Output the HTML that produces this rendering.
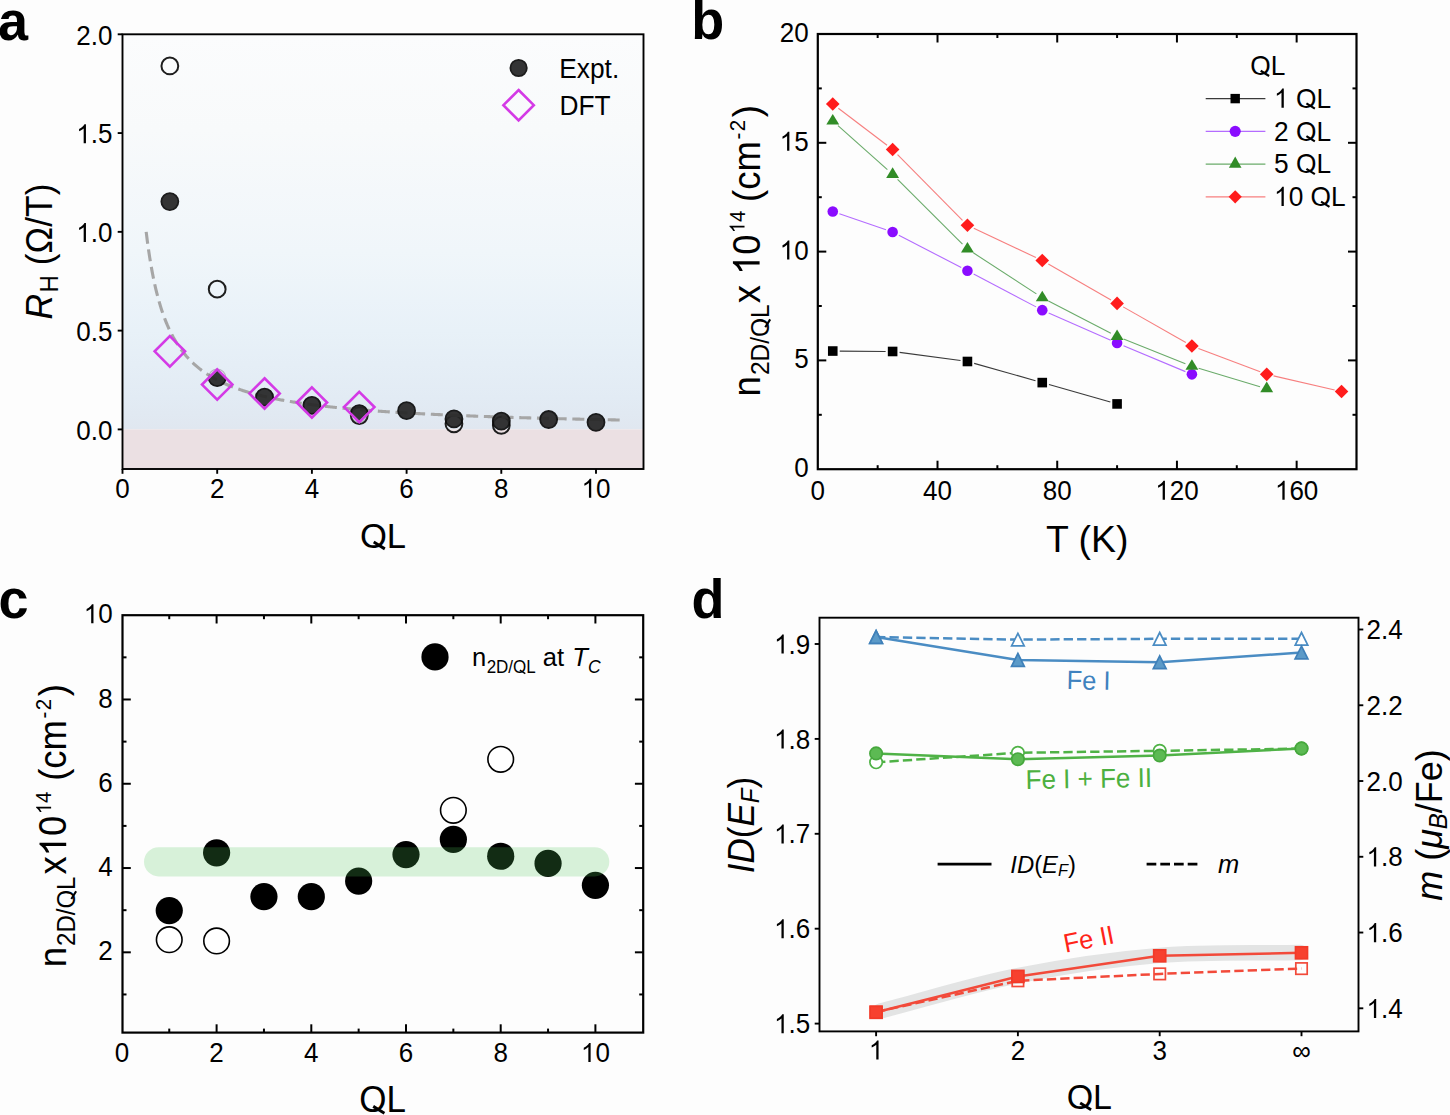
<!DOCTYPE html>
<html><head><meta charset="utf-8"><style>
html,body{margin:0;padding:0;background:#fdfdfd;}
svg{display:block;}
svg text{font-family:"Liberation Sans", sans-serif;}
</style></head><body>
<svg width="1450" height="1115" viewBox="0 0 1450 1115">
<rect width="1450" height="1115" fill="#fdfdfd"/>
<defs><linearGradient id="ga" x1="0" y1="0" x2="0" y2="1"><stop offset="0" stop-color="rgb(251,252,253)"/><stop offset="0.24" stop-color="rgb(248,250,251)"/><stop offset="0.55" stop-color="rgb(240,246,250)"/><stop offset="0.75" stop-color="rgb(232,241,248)"/><stop offset="0.92" stop-color="rgb(226,235,244)"/><stop offset="1" stop-color="rgb(224,231,240)"/></linearGradient></defs>
<rect x="122.5" y="34.3" width="521.0" height="395.09999999999997" fill="url(#ga)"/>
<rect x="122.5" y="429.4" width="521.0" height="39.60000000000002" fill="#ebe0e3"/>
<circle cx="169.85" cy="65.91" r="8.4" fill="none" stroke="#1e1e1e" stroke-width="2"/>
<circle cx="217.20" cy="289.14" r="8.4" fill="none" stroke="#1e1e1e" stroke-width="2"/>
<circle cx="359.25" cy="415.57" r="8.4" fill="none" stroke="#1e1e1e" stroke-width="2"/>
<circle cx="453.95" cy="423.87" r="8.4" fill="none" stroke="#1e1e1e" stroke-width="2"/>
<circle cx="501.30" cy="425.25" r="8.4" fill="none" stroke="#1e1e1e" stroke-width="2"/>
<polyline points="146.18,231.85 147.36,241.26 148.54,249.81 149.73,257.62 150.91,264.77 152.09,271.36 153.28,277.44 154.46,283.07 155.64,288.29 156.83,293.16 158.01,297.70 159.20,301.95 160.38,305.93 161.56,309.67 162.75,313.19 163.93,316.51 165.12,319.65 166.30,322.62 167.48,325.43 168.67,328.09 169.85,330.62 171.03,333.03 172.22,335.33 173.40,337.52 174.59,339.60 175.77,341.60 176.95,343.51 178.14,345.34 179.32,347.09 180.50,348.77 181.69,350.38 182.87,351.93 184.06,353.42 185.24,354.85 186.42,356.23 187.61,357.56 188.79,358.85 189.97,360.08 191.16,361.28 192.34,362.43 193.53,363.55 194.71,364.63 195.89,365.67 197.08,366.69 198.26,367.67 199.44,368.62 200.63,369.54 201.81,370.43 203.00,371.30 204.18,372.14 205.36,372.96 206.55,373.75 207.73,374.52 208.91,375.28 210.10,376.01 211.28,376.72 212.47,377.41 213.65,378.09 214.83,378.75 216.02,379.39 217.20,380.01 218.38,380.62 219.57,381.22 220.75,381.80 221.94,382.36 223.12,382.92 224.30,383.46 225.49,383.99 226.67,384.50 227.85,385.01 229.04,385.50 230.22,385.98 231.41,386.45 232.59,386.92 233.77,387.37 234.96,387.81 236.14,388.24 237.32,388.67 238.51,389.08 239.69,389.49 240.88,389.89 242.06,390.28 243.24,390.66 244.43,391.04 245.61,391.41 246.79,391.77 247.98,392.13 249.16,392.47 250.35,392.82 251.53,393.15 252.71,393.48 253.90,393.81 255.08,394.12 256.26,394.44 257.45,394.74 258.63,395.04 259.81,395.34 261.00,395.63 262.18,395.92 263.37,396.20 264.55,396.47 265.73,396.75 266.92,397.01 268.10,397.28 269.28,397.54 270.47,397.79 271.65,398.04 272.84,398.29 274.02,398.53 275.20,398.77 276.39,399.01 277.57,399.24 278.75,399.47 279.94,399.69 281.12,399.91 282.31,400.13 283.49,400.35 284.67,400.56 285.86,400.77 287.04,400.98 288.23,401.18 289.41,401.38 290.59,401.58 291.78,401.77 292.96,401.96 294.14,402.15 295.33,402.34 296.51,402.52 297.70,402.70 298.88,402.88 300.06,403.06 301.25,403.23 302.43,403.41 303.61,403.58 304.80,403.74 305.98,403.91 307.16,404.07 308.35,404.23 309.53,404.39 310.72,404.55 311.90,404.71 313.08,404.86 314.27,405.01 315.45,405.16 316.63,405.31 317.82,405.45 319.00,405.60 320.19,405.74 321.37,405.88 322.55,406.02 323.74,406.16 324.92,406.29 326.11,406.43 327.29,406.56 328.47,406.69 329.66,406.82 330.84,406.95 332.02,407.08 333.21,407.20 334.39,407.33 335.58,407.45 336.76,407.57 337.94,407.69 339.13,407.81 340.31,407.93 341.49,408.04 342.68,408.16 343.86,408.27 345.05,408.38 346.23,408.50 347.41,408.61 348.60,408.71 349.78,408.82 350.96,408.93 352.15,409.03 353.33,409.14 354.51,409.24 355.70,409.34 356.88,409.45 358.07,409.55 359.25,409.64 360.43,409.74 361.62,409.84 362.80,409.94 363.99,410.03 365.17,410.13 366.35,410.22 367.54,410.31 368.72,410.40 369.90,410.50 371.09,410.59 372.27,410.67 373.46,410.76 374.64,410.85 375.82,410.94 377.01,411.02 378.19,411.11 379.37,411.19 380.56,411.28 381.74,411.36 382.93,411.44 384.11,411.52 385.29,411.60 386.48,411.68 387.66,411.76 388.84,411.84 390.03,411.92 391.21,411.99 392.40,412.07 393.58,412.15 394.76,412.22 395.95,412.30 397.13,412.37 398.31,412.44 399.50,412.52 400.68,412.59 401.87,412.66 403.05,412.73 404.23,412.80 405.42,412.87 406.60,412.94 407.78,413.01 408.97,413.07 410.15,413.14 411.33,413.21 412.52,413.27 413.70,413.34 414.89,413.40 416.07,413.47 417.25,413.53 418.44,413.60 419.62,413.66 420.81,413.72 421.99,413.78 423.17,413.84 424.36,413.91 425.54,413.97 426.72,414.03 427.91,414.09 429.09,414.15 430.28,414.20 431.46,414.26 432.64,414.32 433.83,414.38 435.01,414.43 436.19,414.49 437.38,414.55 438.56,414.60 439.75,414.66 440.93,414.71 442.11,414.77 443.30,414.82 444.48,414.87 445.66,414.93 446.85,414.98 448.03,415.03 449.22,415.08 450.40,415.14 451.58,415.19 452.77,415.24 453.95,415.29 455.13,415.34 456.32,415.39 457.50,415.44 458.69,415.49 459.87,415.54 461.05,415.59 462.24,415.63 463.42,415.68 464.60,415.73 465.79,415.78 466.97,415.82 468.16,415.87 469.34,415.92 470.52,415.96 471.71,416.01 472.89,416.05 474.07,416.10 475.26,416.14 476.44,416.19 477.62,416.23 478.81,416.27 479.99,416.32 481.18,416.36 482.36,416.40 483.54,416.45 484.73,416.49 485.91,416.53 487.10,416.57 488.28,416.61 489.46,416.65 490.65,416.70 491.83,416.74 493.01,416.78 494.20,416.82 495.38,416.86 496.57,416.90 497.75,416.94 498.93,416.98 500.12,417.01 501.30,417.05 502.48,417.09 503.67,417.13 504.85,417.17 506.03,417.21 507.22,417.24 508.40,417.28 509.59,417.32 510.77,417.35 511.95,417.39 513.14,417.43 514.32,417.46 515.51,417.50 516.69,417.54 517.87,417.57 519.06,417.61 520.24,417.64 521.42,417.68 522.61,417.71 523.79,417.75 524.98,417.78 526.16,417.81 527.34,417.85 528.53,417.88 529.71,417.91 530.89,417.95 532.08,417.98 533.26,418.01 534.44,418.05 535.63,418.08 536.81,418.11 538.00,418.14 539.18,418.18 540.36,418.21 541.55,418.24 542.73,418.27 543.91,418.30 545.10,418.33 546.28,418.36 547.47,418.39 548.65,418.42 549.83,418.46 551.02,418.49 552.20,418.52 553.38,418.55 554.57,418.58 555.75,418.60 556.94,418.63 558.12,418.66 559.30,418.69 560.49,418.72 561.67,418.75 562.86,418.78 564.04,418.81 565.22,418.84 566.41,418.86 567.59,418.89 568.77,418.92 569.96,418.95 571.14,418.98 572.33,419.00 573.51,419.03 574.69,419.06 575.88,419.08 577.06,419.11 578.24,419.14 579.43,419.16 580.61,419.19 581.79,419.22 582.98,419.24 584.16,419.27 585.35,419.30 586.53,419.32 587.71,419.35 588.90,419.37 590.08,419.40 591.27,419.42 592.45,419.45 593.63,419.47 594.82,419.50 596.00,419.52 597.18,419.55 598.37,419.57 599.55,419.60 600.74,419.62 601.92,419.64 603.10,419.67 604.29,419.69 605.47,419.72 606.65,419.74 607.84,419.76 609.02,419.79 610.21,419.81 611.39,419.83 612.57,419.86 613.76,419.88 614.94,419.90 616.12,419.93 617.31,419.95 618.49,419.97 619.67,419.99" fill="none" stroke="#a6a6a6" stroke-width="3.1" stroke-linejoin="round" stroke-dasharray="12 5.70"/>
<circle cx="169.85" cy="201.62" r="8.5" fill="#262626" stroke="#0c0c0c" stroke-width="1.8" opacity="0.93"/>
<clipPath id="cd2"><path d="M217.20 370.56 L231.20 384.56 L217.20 398.56 L203.20 384.56 Z"/></clipPath>
<circle cx="217.20" cy="377.64" r="8.6" fill="none" stroke="#555" stroke-width="1.2" opacity="0.35"/>
<circle cx="217.20" cy="377.64" r="8.5" fill="#262626" stroke="#0c0c0c" stroke-width="1.8" opacity="0.93" clip-path="url(#cd2)"/>
<clipPath id="cd3"><path d="M264.55 379.45 L278.55 393.45 L264.55 407.45 L250.55 393.45 Z"/></clipPath>
<circle cx="264.55" cy="397.20" r="8.6" fill="none" stroke="#555" stroke-width="1.2" opacity="0.35"/>
<circle cx="264.55" cy="397.20" r="8.5" fill="#262626" stroke="#0c0c0c" stroke-width="1.8" opacity="0.93" clip-path="url(#cd3)"/>
<clipPath id="cd4"><path d="M311.90 388.53 L325.90 402.53 L311.90 416.53 L297.90 402.53 Z"/></clipPath>
<circle cx="311.90" cy="405.30" r="8.6" fill="none" stroke="#555" stroke-width="1.2" opacity="0.35"/>
<circle cx="311.90" cy="405.30" r="8.5" fill="#262626" stroke="#0c0c0c" stroke-width="1.8" opacity="0.93" clip-path="url(#cd4)"/>
<clipPath id="cd5"><path d="M359.25 393.08 L373.25 407.08 L359.25 421.08 L345.25 407.08 Z"/></clipPath>
<circle cx="359.25" cy="413.60" r="8.6" fill="none" stroke="#555" stroke-width="1.2" opacity="0.35"/>
<circle cx="359.25" cy="413.60" r="8.5" fill="#262626" stroke="#0c0c0c" stroke-width="1.8" opacity="0.93" clip-path="url(#cd5)"/>
<circle cx="406.60" cy="410.63" r="8.5" fill="#262626" stroke="#0c0c0c" stroke-width="1.8" opacity="0.93"/>
<circle cx="453.95" cy="418.93" r="8.5" fill="#262626" stroke="#0c0c0c" stroke-width="1.8" opacity="0.93"/>
<circle cx="501.30" cy="421.10" r="8.5" fill="#262626" stroke="#0c0c0c" stroke-width="1.8" opacity="0.93"/>
<circle cx="548.65" cy="419.52" r="8.5" fill="#262626" stroke="#0c0c0c" stroke-width="1.8" opacity="0.93"/>
<circle cx="596.00" cy="422.29" r="8.5" fill="#262626" stroke="#0c0c0c" stroke-width="1.8" opacity="0.93"/>
<path d="M169.85 336.17 L185.05 351.37 L169.85 366.57 L154.65 351.37 Z" fill="none" stroke="#d43ae6" stroke-width="2.6" stroke-linejoin="miter"/>
<path d="M217.20 369.36 L232.40 384.56 L217.20 399.76 L202.00 384.56 Z" fill="none" stroke="#d43ae6" stroke-width="2.6" stroke-linejoin="miter"/>
<path d="M264.55 378.25 L279.75 393.45 L264.55 408.65 L249.35 393.45 Z" fill="none" stroke="#d43ae6" stroke-width="2.6" stroke-linejoin="miter"/>
<path d="M311.90 387.33 L327.10 402.53 L311.90 417.73 L296.70 402.53 Z" fill="none" stroke="#d43ae6" stroke-width="2.6" stroke-linejoin="miter"/>
<path d="M359.25 391.88 L374.45 407.08 L359.25 422.28 L344.05 407.08 Z" fill="none" stroke="#d43ae6" stroke-width="2.6" stroke-linejoin="miter"/>
<rect x="122.5" y="34.3" width="521.0" height="434.7" fill="none" stroke="#000" stroke-width="1.9"/>
<line x1="117.70" y1="429.40" x2="122.50" y2="429.40" stroke="#000" stroke-width="1.9" />
<text transform="translate(112.40 439.60) scale(1.0 1.04)" font-size="26" text-anchor="end" font-weight="normal" font-style="normal" fill="#000" >0.0</text>
<line x1="117.70" y1="330.62" x2="122.50" y2="330.62" stroke="#000" stroke-width="1.9" />
<text transform="translate(112.40 340.82) scale(1.0 1.04)" font-size="26" text-anchor="end" font-weight="normal" font-style="normal" fill="#000" >0.5</text>
<line x1="117.70" y1="231.85" x2="122.50" y2="231.85" stroke="#000" stroke-width="1.9" />
<g transform="translate(112.40 242.05) scale(1.0 1.04)"><text x="-36.14" y="0" font-size="26" fill="#000" xml:space="preserve"> .0</text><path transform="translate(-36.14 0) scale(0.01270 -0.01270)" d="M763 0L583 0L583 1122.1Q518 1061.4 412 1000.8Q306 940.1 222 909.8L222 1080Q373 1149.5 486 1248.3Q599 1347.1 646 1440L763 1440Z" fill="#000"/></g>
<line x1="117.70" y1="133.07" x2="122.50" y2="133.07" stroke="#000" stroke-width="1.9" />
<g transform="translate(112.40 143.27) scale(1.0 1.04)"><text x="-36.14" y="0" font-size="26" fill="#000" xml:space="preserve"> .5</text><path transform="translate(-36.14 0) scale(0.01270 -0.01270)" d="M763 0L583 0L583 1122.1Q518 1061.4 412 1000.8Q306 940.1 222 909.8L222 1080Q373 1149.5 486 1248.3Q599 1347.1 646 1440L763 1440Z" fill="#000"/></g>
<line x1="117.70" y1="34.30" x2="122.50" y2="34.30" stroke="#000" stroke-width="1.9" />
<text transform="translate(112.40 44.50) scale(1.0 1.04)" font-size="26" text-anchor="end" font-weight="normal" font-style="normal" fill="#000" >2.0</text>
<line x1="122.50" y1="469.00" x2="122.50" y2="473.80" stroke="#000" stroke-width="1.9" />
<text transform="translate(122.50 497.80) scale(1.0 1.04)" font-size="26" text-anchor="middle" font-weight="normal" font-style="normal" fill="#000" >0</text>
<line x1="217.20" y1="469.00" x2="217.20" y2="473.80" stroke="#000" stroke-width="1.9" />
<text transform="translate(217.20 497.80) scale(1.0 1.04)" font-size="26" text-anchor="middle" font-weight="normal" font-style="normal" fill="#000" >2</text>
<line x1="311.90" y1="469.00" x2="311.90" y2="473.80" stroke="#000" stroke-width="1.9" />
<text transform="translate(311.90 497.80) scale(1.0 1.04)" font-size="26" text-anchor="middle" font-weight="normal" font-style="normal" fill="#000" >4</text>
<line x1="406.60" y1="469.00" x2="406.60" y2="473.80" stroke="#000" stroke-width="1.9" />
<text transform="translate(406.60 497.80) scale(1.0 1.04)" font-size="26" text-anchor="middle" font-weight="normal" font-style="normal" fill="#000" >6</text>
<line x1="501.30" y1="469.00" x2="501.30" y2="473.80" stroke="#000" stroke-width="1.9" />
<text transform="translate(501.30 497.80) scale(1.0 1.04)" font-size="26" text-anchor="middle" font-weight="normal" font-style="normal" fill="#000" >8</text>
<line x1="596.00" y1="469.00" x2="596.00" y2="473.80" stroke="#000" stroke-width="1.9" />
<g transform="translate(596.00 497.80) scale(1.0 1.04)"><text x="-14.46" y="0" font-size="26" fill="#000" xml:space="preserve"> 0</text><path transform="translate(-14.46 0) scale(0.01270 -0.01270)" d="M763 0L583 0L583 1122.1Q518 1061.4 412 1000.8Q306 940.1 222 909.8L222 1080Q373 1149.5 486 1248.3Q599 1347.1 646 1440L763 1440Z" fill="#000"/></g>
<g transform="translate(383.00 547.80) scale(1.0 1.04)"><text x="-23.08" y="0" font-size="34.6" fill="#000" xml:space="preserve">OL</text><path transform="translate(-23.08 0) scale(0.01689 -0.01689)" d="M773 257L861 403L1518 10L1430 -136Z" fill="#000"/></g>
<text transform="translate(51.60 251.50) rotate(-90) scale(1.0 1.04)" font-size="35.5" text-anchor="middle" fill="#000" ><tspan font-style="italic">R</tspan><tspan font-size="24" dx="1.5" dy="5.8">H</tspan><tspan dy="-5.8"> (Ω/T)</tspan></text>
<circle cx="518.6" cy="68" r="8.2" fill="#262626" stroke="#0c0c0c" stroke-width="1.8" opacity="0.93"/>
<text transform="translate(559.30 77.60) scale(1.0 1.04)" font-size="26.3" text-anchor="start" font-weight="normal" font-style="normal" fill="#000" >Expt.</text>
<path d="M518.60 90.00 L533.80 105.20 L518.60 120.40 L503.40 105.20 Z" fill="none" stroke="#d43ae6" stroke-width="2.6" stroke-linejoin="miter"/>
<text transform="translate(559.50 114.80) scale(1.0 1.04)" font-size="26.3" text-anchor="start" font-weight="normal" font-style="normal" fill="#000" >DFT</text>
<text transform="translate(-2.00 39.50) scale(1.0 1.04)" font-size="54" text-anchor="start" font-weight="bold" font-style="normal" fill="#000" >a</text>
<line x1="839.76" y1="351.09" x2="885.62" y2="351.43" stroke="#3a3a3a" stroke-width="1.1" />
<line x1="899.56" y1="352.41" x2="960.50" y2="360.56" stroke="#3a3a3a" stroke-width="1.1" />
<line x1="974.18" y1="363.39" x2="1035.52" y2="380.69" stroke="#3a3a3a" stroke-width="1.1" />
<line x1="1048.99" y1="384.51" x2="1110.35" y2="402.00" stroke="#3a3a3a" stroke-width="1.1" />
<line x1="839.39" y1="213.83" x2="886.00" y2="229.75" stroke="#b46cff" stroke-width="1.1" />
<line x1="898.84" y1="235.23" x2="961.22" y2="267.53" stroke="#b46cff" stroke-width="1.1" />
<line x1="973.63" y1="274.01" x2="1036.07" y2="306.87" stroke="#b46cff" stroke-width="1.1" />
<line x1="1048.67" y1="312.95" x2="1110.67" y2="340.18" stroke="#b46cff" stroke-width="1.1" />
<line x1="1123.54" y1="345.70" x2="1185.44" y2="371.62" stroke="#b46cff" stroke-width="1.1" />
<line x1="837.99" y1="125.70" x2="887.39" y2="169.70" stroke="#6aab6a" stroke-width="1.1" />
<line x1="897.58" y1="179.30" x2="962.48" y2="244.05" stroke="#6aab6a" stroke-width="1.1" />
<line x1="973.31" y1="252.81" x2="1036.39" y2="293.91" stroke="#6aab6a" stroke-width="1.1" />
<line x1="1048.48" y1="300.95" x2="1110.86" y2="333.25" stroke="#6aab6a" stroke-width="1.1" />
<line x1="1123.58" y1="339.05" x2="1185.40" y2="363.68" stroke="#6aab6a" stroke-width="1.1" />
<line x1="1198.61" y1="368.28" x2="1260.01" y2="386.68" stroke="#6aab6a" stroke-width="1.1" />
<line x1="838.34" y1="108.30" x2="887.05" y2="145.31" stroke="#f77f7f" stroke-width="1.1" />
<line x1="897.54" y1="154.53" x2="962.52" y2="220.29" stroke="#f77f7f" stroke-width="1.1" />
<line x1="973.77" y1="228.25" x2="1035.93" y2="257.54" stroke="#f77f7f" stroke-width="1.1" />
<line x1="1048.33" y1="264.00" x2="1111.01" y2="299.91" stroke="#f77f7f" stroke-width="1.1" />
<line x1="1123.16" y1="306.86" x2="1185.82" y2="342.57" stroke="#f77f7f" stroke-width="1.1" />
<line x1="1198.45" y1="348.51" x2="1260.17" y2="371.85" stroke="#f77f7f" stroke-width="1.1" />
<line x1="1273.54" y1="375.89" x2="1334.72" y2="389.95" stroke="#f77f7f" stroke-width="1.1" />
<rect x="827.96" y="346.24" width="9.6" height="9.6" fill="#000" stroke="none" stroke-width="0"/>
<rect x="887.82" y="346.68" width="9.6" height="9.6" fill="#000" stroke="none" stroke-width="0"/>
<rect x="962.64" y="356.69" width="9.6" height="9.6" fill="#000" stroke="none" stroke-width="0"/>
<rect x="1037.46" y="377.80" width="9.6" height="9.6" fill="#000" stroke="none" stroke-width="0"/>
<rect x="1112.28" y="399.12" width="9.6" height="9.6" fill="#000" stroke="none" stroke-width="0"/>
<circle cx="832.76" cy="211.56" r="5.3" fill="#8a0cff"/>
<circle cx="892.62" cy="232.02" r="5.3" fill="#8a0cff"/>
<circle cx="967.44" cy="270.75" r="5.3" fill="#8a0cff"/>
<circle cx="1042.26" cy="310.13" r="5.3" fill="#8a0cff"/>
<circle cx="1117.08" cy="342.99" r="5.3" fill="#8a0cff"/>
<circle cx="1191.90" cy="374.33" r="5.3" fill="#8a0cff"/>
<path d="M832.76 113.97 L839.21 124.57 L826.31 124.57 Z" fill="#318c27" stroke="none" stroke-width="0" stroke-linejoin="miter"/>
<path d="M892.62 167.29 L899.07 177.89 L886.17 177.89 Z" fill="#318c27" stroke="none" stroke-width="0" stroke-linejoin="miter"/>
<path d="M967.44 241.92 L973.89 252.52 L960.99 252.52 Z" fill="#318c27" stroke="none" stroke-width="0" stroke-linejoin="miter"/>
<path d="M1042.26 290.66 L1048.71 301.26 L1035.81 301.26 Z" fill="#318c27" stroke="none" stroke-width="0" stroke-linejoin="miter"/>
<path d="M1117.08 329.40 L1123.53 340.00 L1110.63 340.00 Z" fill="#318c27" stroke="none" stroke-width="0" stroke-linejoin="miter"/>
<path d="M1191.90 359.21 L1198.35 369.81 L1185.45 369.81 Z" fill="#318c27" stroke="none" stroke-width="0" stroke-linejoin="miter"/>
<path d="M1266.72 381.62 L1273.17 392.22 L1260.27 392.22 Z" fill="#318c27" stroke="none" stroke-width="0" stroke-linejoin="miter"/>
<path d="M832.76 97.27 L839.56 104.07 L832.76 110.87 L825.96 104.07 Z" fill="#ff1c1c" stroke="none" stroke-width="0" stroke-linejoin="miter"/>
<path d="M892.62 142.75 L899.42 149.55 L892.62 156.35 L885.82 149.55 Z" fill="#ff1c1c" stroke="none" stroke-width="0" stroke-linejoin="miter"/>
<path d="M967.44 218.47 L974.24 225.27 L967.44 232.07 L960.64 225.27 Z" fill="#ff1c1c" stroke="none" stroke-width="0" stroke-linejoin="miter"/>
<path d="M1042.26 253.72 L1049.06 260.52 L1042.26 267.32 L1035.46 260.52 Z" fill="#ff1c1c" stroke="none" stroke-width="0" stroke-linejoin="miter"/>
<path d="M1117.08 296.59 L1123.88 303.39 L1117.08 310.19 L1110.28 303.39 Z" fill="#ff1c1c" stroke="none" stroke-width="0" stroke-linejoin="miter"/>
<path d="M1191.90 339.24 L1198.70 346.04 L1191.90 352.84 L1185.10 346.04 Z" fill="#ff1c1c" stroke="none" stroke-width="0" stroke-linejoin="miter"/>
<path d="M1266.72 367.53 L1273.52 374.33 L1266.72 381.13 L1259.92 374.33 Z" fill="#ff1c1c" stroke="none" stroke-width="0" stroke-linejoin="miter"/>
<path d="M1341.54 384.72 L1348.34 391.52 L1341.54 398.32 L1334.74 391.52 Z" fill="#ff1c1c" stroke="none" stroke-width="0" stroke-linejoin="miter"/>
<rect x="817.8" y="34.0" width="538.7" height="435.2" fill="none" stroke="#000" stroke-width="2.2"/>
<text transform="translate(817.80 499.70) scale(1.0 1.04)" font-size="26" text-anchor="middle" font-weight="normal" font-style="normal" fill="#000" >0</text>
<line x1="877.66" y1="469.20" x2="877.66" y2="465.20" stroke="#000" stroke-width="2" />
<line x1="877.66" y1="34.00" x2="877.66" y2="38.00" stroke="#000" stroke-width="2" />
<line x1="937.51" y1="469.20" x2="937.51" y2="460.70" stroke="#000" stroke-width="2" />
<line x1="937.51" y1="34.00" x2="937.51" y2="42.50" stroke="#000" stroke-width="2" />
<text transform="translate(937.51 499.70) scale(1.0 1.04)" font-size="26" text-anchor="middle" font-weight="normal" font-style="normal" fill="#000" >40</text>
<line x1="997.37" y1="469.20" x2="997.37" y2="465.20" stroke="#000" stroke-width="2" />
<line x1="997.37" y1="34.00" x2="997.37" y2="38.00" stroke="#000" stroke-width="2" />
<line x1="1057.22" y1="469.20" x2="1057.22" y2="460.70" stroke="#000" stroke-width="2" />
<line x1="1057.22" y1="34.00" x2="1057.22" y2="42.50" stroke="#000" stroke-width="2" />
<text transform="translate(1057.22 499.70) scale(1.0 1.04)" font-size="26" text-anchor="middle" font-weight="normal" font-style="normal" fill="#000" >80</text>
<line x1="1117.08" y1="469.20" x2="1117.08" y2="465.20" stroke="#000" stroke-width="2" />
<line x1="1117.08" y1="34.00" x2="1117.08" y2="38.00" stroke="#000" stroke-width="2" />
<line x1="1176.94" y1="469.20" x2="1176.94" y2="460.70" stroke="#000" stroke-width="2" />
<line x1="1176.94" y1="34.00" x2="1176.94" y2="42.50" stroke="#000" stroke-width="2" />
<g transform="translate(1176.94 499.70) scale(1.0 1.04)"><text x="-21.69" y="0" font-size="26" fill="#000" xml:space="preserve"> 20</text><path transform="translate(-21.69 0) scale(0.01270 -0.01270)" d="M763 0L583 0L583 1122.1Q518 1061.4 412 1000.8Q306 940.1 222 909.8L222 1080Q373 1149.5 486 1248.3Q599 1347.1 646 1440L763 1440Z" fill="#000"/></g>
<line x1="1236.79" y1="469.20" x2="1236.79" y2="465.20" stroke="#000" stroke-width="2" />
<line x1="1236.79" y1="34.00" x2="1236.79" y2="38.00" stroke="#000" stroke-width="2" />
<line x1="1296.65" y1="469.20" x2="1296.65" y2="460.70" stroke="#000" stroke-width="2" />
<line x1="1296.65" y1="34.00" x2="1296.65" y2="42.50" stroke="#000" stroke-width="2" />
<g transform="translate(1296.65 499.70) scale(1.0 1.04)"><text x="-21.69" y="0" font-size="26" fill="#000" xml:space="preserve"> 60</text><path transform="translate(-21.69 0) scale(0.01270 -0.01270)" d="M763 0L583 0L583 1122.1Q518 1061.4 412 1000.8Q306 940.1 222 909.8L222 1080Q373 1149.5 486 1248.3Q599 1347.1 646 1440L763 1440Z" fill="#000"/></g>
<text transform="translate(808.60 477.20) scale(1.0 1.04)" font-size="26" text-anchor="end" font-weight="normal" font-style="normal" fill="#000" >0</text>
<line x1="817.80" y1="414.80" x2="821.80" y2="414.80" stroke="#000" stroke-width="2" />
<line x1="1356.50" y1="414.80" x2="1352.50" y2="414.80" stroke="#000" stroke-width="2" />
<line x1="817.80" y1="360.40" x2="826.30" y2="360.40" stroke="#000" stroke-width="2" />
<line x1="1356.50" y1="360.40" x2="1348.00" y2="360.40" stroke="#000" stroke-width="2" />
<text transform="translate(808.60 368.40) scale(1.0 1.04)" font-size="26" text-anchor="end" font-weight="normal" font-style="normal" fill="#000" >5</text>
<line x1="817.80" y1="306.00" x2="821.80" y2="306.00" stroke="#000" stroke-width="2" />
<line x1="1356.50" y1="306.00" x2="1352.50" y2="306.00" stroke="#000" stroke-width="2" />
<line x1="817.80" y1="251.60" x2="826.30" y2="251.60" stroke="#000" stroke-width="2" />
<line x1="1356.50" y1="251.60" x2="1348.00" y2="251.60" stroke="#000" stroke-width="2" />
<g transform="translate(808.60 259.60) scale(1.0 1.04)"><text x="-28.92" y="0" font-size="26" fill="#000" xml:space="preserve"> 0</text><path transform="translate(-28.92 0) scale(0.01270 -0.01270)" d="M763 0L583 0L583 1122.1Q518 1061.4 412 1000.8Q306 940.1 222 909.8L222 1080Q373 1149.5 486 1248.3Q599 1347.1 646 1440L763 1440Z" fill="#000"/></g>
<line x1="817.80" y1="197.20" x2="821.80" y2="197.20" stroke="#000" stroke-width="2" />
<line x1="1356.50" y1="197.20" x2="1352.50" y2="197.20" stroke="#000" stroke-width="2" />
<line x1="817.80" y1="142.80" x2="826.30" y2="142.80" stroke="#000" stroke-width="2" />
<line x1="1356.50" y1="142.80" x2="1348.00" y2="142.80" stroke="#000" stroke-width="2" />
<g transform="translate(808.60 150.80) scale(1.0 1.04)"><text x="-28.92" y="0" font-size="26" fill="#000" xml:space="preserve"> 5</text><path transform="translate(-28.92 0) scale(0.01270 -0.01270)" d="M763 0L583 0L583 1122.1Q518 1061.4 412 1000.8Q306 940.1 222 909.8L222 1080Q373 1149.5 486 1248.3Q599 1347.1 646 1440L763 1440Z" fill="#000"/></g>
<line x1="817.80" y1="88.40" x2="821.80" y2="88.40" stroke="#000" stroke-width="2" />
<line x1="1356.50" y1="88.40" x2="1352.50" y2="88.40" stroke="#000" stroke-width="2" />
<text transform="translate(808.60 42.00) scale(1.0 1.04)" font-size="26" text-anchor="end" font-weight="normal" font-style="normal" fill="#000" >20</text>
<text transform="translate(1087.20 551.80) scale(1.04 1.04)" font-size="36" text-anchor="middle" font-weight="normal" font-style="normal" fill="#000" >T (K)</text>
<g transform="translate(759.60 250.80) rotate(-90) scale(1.0 1.04)"><text font-size="36.5" text-anchor="middle" fill="#000" xml:space="preserve" >n<tspan font-size="24.5" dx="1" dy="9.4">2D/OL</tspan><tspan dx="1" dy="-9.4">x  0</tspan><tspan font-size="20.5" dx="1" dy="-14.5"> 4</tspan><tspan dx="-1.5" dy="14.5"> (cm</tspan><tspan font-size="20.5" dx="1.5" dy="-14.5">-</tspan><tspan font-size="20.5" dx="1.5">2</tspan><tspan dx="2.5" dy="14.5">)</tspan></text><path transform="translate(-86.19 9.40) scale(0.01196 -0.01196)" d="M773 257L861 403L1518 10L1430 -136Z"/><path transform="translate(-24.14 0.00) scale(0.01782 -0.01782)" d="M763 0L583 0L583 1122.1Q518 1061.4 412 1000.8Q306 940.1 222 909.8L222 1080Q373 1149.5 486 1248.3Q599 1347.1 646 1440L763 1440Z"/><path transform="translate(17.46 -14.50) scale(0.01001 -0.01001)" d="M763 0L583 0L583 1122.1Q518 1061.4 412 1000.8Q306 940.1 222 909.8L222 1080Q373 1149.5 486 1248.3Q599 1347.1 646 1440L763 1440Z"/></g>
<g transform="translate(1250.20 75.20) scale(1.0 1.04)"><text x="0.00" y="0" font-size="26.3" fill="#000" xml:space="preserve">OL</text><path transform="translate(0.00 0) scale(0.01284 -0.01284)" d="M773 257L861 403L1518 10L1430 -136Z" fill="#000"/></g>
<line x1="1205.70" y1="98.60" x2="1265.40" y2="98.60" stroke="#3a3a3a" stroke-width="1.1" />
<rect x="1230.50" y="93.90" width="9.4" height="9.4" fill="#000" stroke="none" stroke-width="0"/>
<g transform="translate(1274.00 107.80) scale(1.0 1.04)"><text x="0.00" y="0" font-size="26.3" fill="#000" xml:space="preserve">  OL</text><path transform="translate(0.00 0) scale(0.01284 -0.01284)" d="M763 0L583 0L583 1122.1Q518 1061.4 412 1000.8Q306 940.1 222 909.8L222 1080Q373 1149.5 486 1248.3Q599 1347.1 646 1440L763 1440Z" fill="#000"/><path transform="translate(21.93 0) scale(0.01284 -0.01284)" d="M773 257L861 403L1518 10L1430 -136Z" fill="#000"/></g>
<line x1="1205.70" y1="131.35" x2="1265.40" y2="131.35" stroke="#b46cff" stroke-width="1.1" />
<circle cx="1235.2" cy="131.35" r="5.6" fill="#8a0cff"/>
<g transform="translate(1274.00 140.55) scale(1.0 1.04)"><text x="0.00" y="0" font-size="26.3" fill="#000" xml:space="preserve">2 OL</text><path transform="translate(21.93 0) scale(0.01284 -0.01284)" d="M773 257L861 403L1518 10L1430 -136Z" fill="#000"/></g>
<line x1="1205.70" y1="164.10" x2="1265.40" y2="164.10" stroke="#6aab6a" stroke-width="1.1" />
<path d="M1235.20 156.57 L1241.50 167.87 L1228.90 167.87 Z" fill="#318c27" stroke="none" stroke-width="0" stroke-linejoin="miter"/>
<g transform="translate(1274.00 173.30) scale(1.0 1.04)"><text x="0.00" y="0" font-size="26.3" fill="#000" xml:space="preserve">5 OL</text><path transform="translate(21.93 0) scale(0.01284 -0.01284)" d="M773 257L861 403L1518 10L1430 -136Z" fill="#000"/></g>
<line x1="1205.70" y1="196.85" x2="1265.40" y2="196.85" stroke="#f77f7f" stroke-width="1.1" />
<path d="M1235.20 190.25 L1241.80 196.85 L1235.20 203.45 L1228.60 196.85 Z" fill="#ff1c1c" stroke="none" stroke-width="0" stroke-linejoin="miter"/>
<g transform="translate(1274.00 206.05) scale(1.0 1.04)"><text x="0.00" y="0" font-size="26.3" fill="#000" xml:space="preserve"> 0 OL</text><path transform="translate(0.00 0) scale(0.01284 -0.01284)" d="M763 0L583 0L583 1122.1Q518 1061.4 412 1000.8Q306 940.1 222 909.8L222 1080Q373 1149.5 486 1248.3Q599 1347.1 646 1440L763 1440Z" fill="#000"/><path transform="translate(36.56 0) scale(0.01284 -0.01284)" d="M773 257L861 403L1518 10L1430 -136Z" fill="#000"/></g>
<text transform="translate(691.30 39.00) scale(1.0 1.04)" font-size="54" text-anchor="start" font-weight="bold" font-style="normal" fill="#000" >b</text>
<circle cx="169.25" cy="939.68" r="12.8" fill="#fff" stroke="#000" stroke-width="1.6"/>
<circle cx="216.60" cy="940.94" r="12.8" fill="#fff" stroke="#000" stroke-width="1.6"/>
<circle cx="453.35" cy="810.31" r="12.8" fill="#fff" stroke="#000" stroke-width="1.6"/>
<circle cx="500.70" cy="759.32" r="12.8" fill="#fff" stroke="#000" stroke-width="1.6"/>
<circle cx="169.25" cy="910.60" r="13.6" fill="#000"/>
<circle cx="216.60" cy="852.87" r="13.6" fill="#000"/>
<circle cx="263.95" cy="896.70" r="13.6" fill="#000"/>
<circle cx="311.30" cy="896.70" r="13.6" fill="#000"/>
<circle cx="358.65" cy="881.10" r="13.6" fill="#000"/>
<circle cx="406.00" cy="854.56" r="13.6" fill="#000"/>
<circle cx="453.35" cy="839.38" r="13.6" fill="#000"/>
<circle cx="500.70" cy="856.24" r="13.6" fill="#000"/>
<circle cx="548.05" cy="863.40" r="13.6" fill="#000"/>
<circle cx="595.40" cy="885.32" r="13.6" fill="#000"/>
<rect x="144" y="847.2" width="465.3" height="29.2" rx="14.6" fill="rgba(80,200,90,0.22)"/>
<rect x="122.5" y="615.2" width="520.7" height="417.39999999999986" fill="none" stroke="#000" stroke-width="2.2"/>
<line x1="169.25" y1="1032.60" x2="169.25" y2="1028.60" stroke="#000" stroke-width="2" />
<line x1="169.25" y1="615.20" x2="169.25" y2="619.20" stroke="#000" stroke-width="2" />
<line x1="216.60" y1="1032.60" x2="216.60" y2="1024.30" stroke="#000" stroke-width="2" />
<line x1="216.60" y1="615.20" x2="216.60" y2="623.50" stroke="#000" stroke-width="2" />
<line x1="263.95" y1="1032.60" x2="263.95" y2="1028.60" stroke="#000" stroke-width="2" />
<line x1="263.95" y1="615.20" x2="263.95" y2="619.20" stroke="#000" stroke-width="2" />
<line x1="311.30" y1="1032.60" x2="311.30" y2="1024.30" stroke="#000" stroke-width="2" />
<line x1="311.30" y1="615.20" x2="311.30" y2="623.50" stroke="#000" stroke-width="2" />
<line x1="358.65" y1="1032.60" x2="358.65" y2="1028.60" stroke="#000" stroke-width="2" />
<line x1="358.65" y1="615.20" x2="358.65" y2="619.20" stroke="#000" stroke-width="2" />
<line x1="406.00" y1="1032.60" x2="406.00" y2="1024.30" stroke="#000" stroke-width="2" />
<line x1="406.00" y1="615.20" x2="406.00" y2="623.50" stroke="#000" stroke-width="2" />
<line x1="453.35" y1="1032.60" x2="453.35" y2="1028.60" stroke="#000" stroke-width="2" />
<line x1="453.35" y1="615.20" x2="453.35" y2="619.20" stroke="#000" stroke-width="2" />
<line x1="500.70" y1="1032.60" x2="500.70" y2="1024.30" stroke="#000" stroke-width="2" />
<line x1="500.70" y1="615.20" x2="500.70" y2="623.50" stroke="#000" stroke-width="2" />
<line x1="548.05" y1="1032.60" x2="548.05" y2="1028.60" stroke="#000" stroke-width="2" />
<line x1="548.05" y1="615.20" x2="548.05" y2="619.20" stroke="#000" stroke-width="2" />
<line x1="595.40" y1="1032.60" x2="595.40" y2="1024.30" stroke="#000" stroke-width="2" />
<line x1="595.40" y1="615.20" x2="595.40" y2="623.50" stroke="#000" stroke-width="2" />
<text transform="translate(121.90 1061.90) scale(1.0 1.04)" font-size="26" text-anchor="middle" font-weight="normal" font-style="normal" fill="#000" >0</text>
<text transform="translate(216.60 1061.90) scale(1.0 1.04)" font-size="26" text-anchor="middle" font-weight="normal" font-style="normal" fill="#000" >2</text>
<text transform="translate(311.30 1061.90) scale(1.0 1.04)" font-size="26" text-anchor="middle" font-weight="normal" font-style="normal" fill="#000" >4</text>
<text transform="translate(406.00 1061.90) scale(1.0 1.04)" font-size="26" text-anchor="middle" font-weight="normal" font-style="normal" fill="#000" >6</text>
<text transform="translate(500.70 1061.90) scale(1.0 1.04)" font-size="26" text-anchor="middle" font-weight="normal" font-style="normal" fill="#000" >8</text>
<g transform="translate(595.40 1061.90) scale(1.0 1.04)"><text x="-14.46" y="0" font-size="26" fill="#000" xml:space="preserve"> 0</text><path transform="translate(-14.46 0) scale(0.01270 -0.01270)" d="M763 0L583 0L583 1122.1Q518 1061.4 412 1000.8Q306 940.1 222 909.8L222 1080Q373 1149.5 486 1248.3Q599 1347.1 646 1440L763 1440Z" fill="#000"/></g>
<line x1="122.50" y1="994.46" x2="126.50" y2="994.46" stroke="#000" stroke-width="2" />
<line x1="643.20" y1="994.46" x2="639.20" y2="994.46" stroke="#000" stroke-width="2" />
<line x1="122.50" y1="952.32" x2="130.80" y2="952.32" stroke="#000" stroke-width="2" />
<line x1="643.20" y1="952.32" x2="634.90" y2="952.32" stroke="#000" stroke-width="2" />
<text transform="translate(112.70 960.42) scale(1.0 1.04)" font-size="26" text-anchor="end" font-weight="normal" font-style="normal" fill="#000" >2</text>
<line x1="122.50" y1="910.18" x2="126.50" y2="910.18" stroke="#000" stroke-width="2" />
<line x1="643.20" y1="910.18" x2="639.20" y2="910.18" stroke="#000" stroke-width="2" />
<line x1="122.50" y1="868.04" x2="130.80" y2="868.04" stroke="#000" stroke-width="2" />
<line x1="643.20" y1="868.04" x2="634.90" y2="868.04" stroke="#000" stroke-width="2" />
<text transform="translate(112.70 876.14) scale(1.0 1.04)" font-size="26" text-anchor="end" font-weight="normal" font-style="normal" fill="#000" >4</text>
<line x1="122.50" y1="825.90" x2="126.50" y2="825.90" stroke="#000" stroke-width="2" />
<line x1="643.20" y1="825.90" x2="639.20" y2="825.90" stroke="#000" stroke-width="2" />
<line x1="122.50" y1="783.76" x2="130.80" y2="783.76" stroke="#000" stroke-width="2" />
<line x1="643.20" y1="783.76" x2="634.90" y2="783.76" stroke="#000" stroke-width="2" />
<text transform="translate(112.70 791.86) scale(1.0 1.04)" font-size="26" text-anchor="end" font-weight="normal" font-style="normal" fill="#000" >6</text>
<line x1="122.50" y1="741.62" x2="126.50" y2="741.62" stroke="#000" stroke-width="2" />
<line x1="643.20" y1="741.62" x2="639.20" y2="741.62" stroke="#000" stroke-width="2" />
<line x1="122.50" y1="699.48" x2="130.80" y2="699.48" stroke="#000" stroke-width="2" />
<line x1="643.20" y1="699.48" x2="634.90" y2="699.48" stroke="#000" stroke-width="2" />
<text transform="translate(112.70 707.58) scale(1.0 1.04)" font-size="26" text-anchor="end" font-weight="normal" font-style="normal" fill="#000" >8</text>
<line x1="122.50" y1="657.34" x2="126.50" y2="657.34" stroke="#000" stroke-width="2" />
<line x1="643.20" y1="657.34" x2="639.20" y2="657.34" stroke="#000" stroke-width="2" />
<g transform="translate(112.70 623.30) scale(1.0 1.04)"><text x="-28.92" y="0" font-size="26" fill="#000" xml:space="preserve"> 0</text><path transform="translate(-28.92 0) scale(0.01270 -0.01270)" d="M763 0L583 0L583 1122.1Q518 1061.4 412 1000.8Q306 940.1 222 909.8L222 1080Q373 1149.5 486 1248.3Q599 1347.1 646 1440L763 1440Z" fill="#000"/></g>
<g transform="translate(382.60 1112.20) scale(1.0 1.04)"><text x="-23.34" y="0" font-size="35" fill="#000" xml:space="preserve">OL</text><path transform="translate(-23.34 0) scale(0.01709 -0.01709)" d="M773 257L861 403L1518 10L1430 -136Z" fill="#000"/></g>
<g transform="translate(66.20 825.70) rotate(-90) scale(1.0 1.04)"><text font-size="36.5" text-anchor="middle" fill="#000" xml:space="preserve" >n<tspan font-size="24" dx="1" dy="8.8">2D/OL</tspan><tspan dx="2" dy="-8.8">x 0</tspan><tspan font-size="20.5" dx="1.5" dy="-14.5"> 4</tspan><tspan dx="0.5" dy="14.5"> (cm</tspan><tspan font-size="20.5" dx="1.5" dy="-14.5">-</tspan><tspan font-size="20.5" dx="1.5">2</tspan><tspan dx="2.5" dy="14.5">)</tspan></text><path transform="translate(-82.93 8.80) scale(0.01172 -0.01172)" d="M773 257L861 403L1518 10L1430 -136Z"/><path transform="translate(-30.68 0.00) scale(0.01782 -0.01782)" d="M763 0L583 0L583 1122.1Q518 1061.4 412 1000.8Q306 940.1 222 909.8L222 1080Q373 1149.5 486 1248.3Q599 1347.1 646 1440L763 1440Z"/><path transform="translate(11.40 -14.50) scale(0.01001 -0.01001)" d="M763 0L583 0L583 1122.1Q518 1061.4 412 1000.8Q306 940.1 222 909.8L222 1080Q373 1149.5 486 1248.3Q599 1347.1 646 1440L763 1440Z"/></g>
<circle cx="435" cy="656.9" r="13.6" fill="#000"/>
<g transform="translate(471.90 666.00) scale(1.0 1.04)"><text font-size="25.6" text-anchor="start" fill="#000" xml:space="preserve" >n<tspan font-size="17" dx="0.5" dy="6.8">2D/OL</tspan><tspan dy="-6.8"> at </tspan><tspan font-style="italic" dx="1">T</tspan><tspan font-size="17.5" font-style="italic" dy="6.8">C</tspan></text><path transform="translate(41.16 6.80) scale(0.00830 -0.00830)" d="M773 257L861 403L1518 10L1430 -136Z"/></g>
<text transform="translate(-1.50 617.90) scale(1.0 1.04)" font-size="54" text-anchor="start" font-weight="bold" font-style="normal" fill="#000" >c</text>
<path d="M880.50 1011.00 C926.30 999.20 971.37 984.87 1017.90 975.60 C1064.43 966.33 1112.68 959.27 1159.70 955.40 C1206.72 951.53 1253.23 953.40 1300.00 952.40" fill="none" stroke="#e3e4e4" stroke-width="15.5" stroke-linecap="round" stroke-linejoin="round"/>
<polyline points="876.10,637.00 1017.90,639.60 1159.70,638.80 1301.50,638.80" fill="none" stroke="#4a8cc3" stroke-width="2.5" stroke-linejoin="round" stroke-dasharray="9.3 4.1"/>
<path d="M876.10 630.70 L882.40 643.30 L869.80 643.30 Z" fill="#fff" stroke="#4a8cc3" stroke-width="1.7" stroke-linejoin="miter"/>
<path d="M1017.90 633.30 L1024.20 645.90 L1011.60 645.90 Z" fill="#fff" stroke="#4a8cc3" stroke-width="1.7" stroke-linejoin="miter"/>
<path d="M1159.70 632.50 L1166.00 645.10 L1153.40 645.10 Z" fill="#fff" stroke="#4a8cc3" stroke-width="1.7" stroke-linejoin="miter"/>
<path d="M1301.50 632.50 L1307.80 645.10 L1295.20 645.10 Z" fill="#fff" stroke="#4a8cc3" stroke-width="1.7" stroke-linejoin="miter"/>
<polyline points="876.10,762.30 1017.90,752.80 1159.70,750.80 1301.50,748.60" fill="none" stroke="#4fb246" stroke-width="2.5" stroke-linejoin="round" stroke-dasharray="9.3 4.1"/>
<circle cx="876.10" cy="762.30" r="6.2" fill="#fff" stroke="#4fb246" stroke-width="1.7"/>
<circle cx="1017.90" cy="752.80" r="6.2" fill="#fff" stroke="#4fb246" stroke-width="1.7"/>
<circle cx="1159.70" cy="750.80" r="6.2" fill="#fff" stroke="#4fb246" stroke-width="1.7"/>
<circle cx="1301.50" cy="748.60" r="6.2" fill="#fff" stroke="#4fb246" stroke-width="1.7"/>
<polyline points="876.10,1012.00 1017.90,980.80 1159.70,973.90 1301.50,968.60" fill="none" stroke="#f24a3a" stroke-width="2.5" stroke-linejoin="round" stroke-dasharray="9.3 4.1"/>
<rect x="870.40" y="1006.30" width="11.4" height="11.4" fill="none" stroke="#f24a3a" stroke-width="1.7"/>
<rect x="1012.20" y="975.10" width="11.4" height="11.4" fill="none" stroke="#f24a3a" stroke-width="1.7"/>
<rect x="1154.00" y="968.20" width="11.4" height="11.4" fill="none" stroke="#f24a3a" stroke-width="1.7"/>
<rect x="1295.80" y="962.90" width="11.4" height="11.4" fill="none" stroke="#f24a3a" stroke-width="1.7"/>
<polyline points="876.10,637.00 1017.90,659.90 1159.70,662.30 1301.50,652.50" fill="none" stroke="#4a8cc3" stroke-width="2.5" stroke-linejoin="round" />
<path d="M876.10 630.60 L882.50 643.40 L869.70 643.40 Z" fill="#5b9ac8" stroke="#3f80b9" stroke-width="1.7" stroke-linejoin="miter"/>
<path d="M1017.90 653.50 L1024.30 666.30 L1011.50 666.30 Z" fill="#5b9ac8" stroke="#3f80b9" stroke-width="1.7" stroke-linejoin="miter"/>
<path d="M1159.70 655.90 L1166.10 668.70 L1153.30 668.70 Z" fill="#5b9ac8" stroke="#3f80b9" stroke-width="1.7" stroke-linejoin="miter"/>
<path d="M1301.50 646.10 L1307.90 658.90 L1295.10 658.90 Z" fill="#5b9ac8" stroke="#3f80b9" stroke-width="1.7" stroke-linejoin="miter"/>
<polyline points="876.10,753.40 1017.90,759.20 1159.70,755.50 1301.50,748.40" fill="none" stroke="#4fb246" stroke-width="2.5" stroke-linejoin="round" />
<circle cx="876.10" cy="753.40" r="6.2" fill="#5cba53" stroke="#46a83d" stroke-width="1.7"/>
<circle cx="1017.90" cy="759.20" r="6.2" fill="#5cba53" stroke="#46a83d" stroke-width="1.7"/>
<circle cx="1159.70" cy="755.50" r="6.2" fill="#5cba53" stroke="#46a83d" stroke-width="1.7"/>
<circle cx="1301.50" cy="748.40" r="6.2" fill="#5cba53" stroke="#46a83d" stroke-width="1.7"/>
<polyline points="876.10,1012.30 1017.90,976.40 1159.70,955.80 1301.50,952.80" fill="none" stroke="#f24a3a" stroke-width="2.5" stroke-linejoin="round" />
<rect x="870.10" y="1006.30" width="12.0" height="12.0" fill="#f7412f" stroke="#f23a28" stroke-width="1.7"/>
<rect x="1011.90" y="970.40" width="12.0" height="12.0" fill="#f7412f" stroke="#f23a28" stroke-width="1.7"/>
<rect x="1153.70" y="949.80" width="12.0" height="12.0" fill="#f7412f" stroke="#f23a28" stroke-width="1.7"/>
<rect x="1295.50" y="946.80" width="12.0" height="12.0" fill="#f7412f" stroke="#f23a28" stroke-width="1.7"/>
<rect x="819.5" y="617.7" width="539.0" height="413.70000000000005" fill="none" stroke="#000" stroke-width="1.9"/>
<line x1="814.70" y1="1023.60" x2="819.50" y2="1023.60" stroke="#000" stroke-width="1.9" />
<g transform="translate(810.20 1033.20) scale(1.0 1.04)"><text x="-36.14" y="0" font-size="26" fill="#000" xml:space="preserve"> .5</text><path transform="translate(-36.14 0) scale(0.01270 -0.01270)" d="M763 0L583 0L583 1122.1Q518 1061.4 412 1000.8Q306 940.1 222 909.8L222 1080Q373 1149.5 486 1248.3Q599 1347.1 646 1440L763 1440Z" fill="#000"/></g>
<line x1="814.70" y1="928.70" x2="819.50" y2="928.70" stroke="#000" stroke-width="1.9" />
<g transform="translate(810.20 938.30) scale(1.0 1.04)"><text x="-36.14" y="0" font-size="26" fill="#000" xml:space="preserve"> .6</text><path transform="translate(-36.14 0) scale(0.01270 -0.01270)" d="M763 0L583 0L583 1122.1Q518 1061.4 412 1000.8Q306 940.1 222 909.8L222 1080Q373 1149.5 486 1248.3Q599 1347.1 646 1440L763 1440Z" fill="#000"/></g>
<line x1="814.70" y1="833.80" x2="819.50" y2="833.80" stroke="#000" stroke-width="1.9" />
<g transform="translate(810.20 843.40) scale(1.0 1.04)"><text x="-36.14" y="0" font-size="26" fill="#000" xml:space="preserve"> .7</text><path transform="translate(-36.14 0) scale(0.01270 -0.01270)" d="M763 0L583 0L583 1122.1Q518 1061.4 412 1000.8Q306 940.1 222 909.8L222 1080Q373 1149.5 486 1248.3Q599 1347.1 646 1440L763 1440Z" fill="#000"/></g>
<line x1="814.70" y1="738.90" x2="819.50" y2="738.90" stroke="#000" stroke-width="1.9" />
<g transform="translate(810.20 748.50) scale(1.0 1.04)"><text x="-36.14" y="0" font-size="26" fill="#000" xml:space="preserve"> .8</text><path transform="translate(-36.14 0) scale(0.01270 -0.01270)" d="M763 0L583 0L583 1122.1Q518 1061.4 412 1000.8Q306 940.1 222 909.8L222 1080Q373 1149.5 486 1248.3Q599 1347.1 646 1440L763 1440Z" fill="#000"/></g>
<line x1="814.70" y1="644.00" x2="819.50" y2="644.00" stroke="#000" stroke-width="1.9" />
<g transform="translate(810.20 653.60) scale(1.0 1.04)"><text x="-36.14" y="0" font-size="26" fill="#000" xml:space="preserve"> .9</text><path transform="translate(-36.14 0) scale(0.01270 -0.01270)" d="M763 0L583 0L583 1122.1Q518 1061.4 412 1000.8Q306 940.1 222 909.8L222 1080Q373 1149.5 486 1248.3Q599 1347.1 646 1440L763 1440Z" fill="#000"/></g>
<line x1="1358.50" y1="1008.30" x2="1363.30" y2="1008.30" stroke="#000" stroke-width="1.9" />
<g transform="translate(1366.50 1017.90) scale(1.0 1.04)"><text x="0.00" y="0" font-size="26" fill="#000" xml:space="preserve"> .4</text><path transform="translate(0.00 0) scale(0.01270 -0.01270)" d="M763 0L583 0L583 1122.1Q518 1061.4 412 1000.8Q306 940.1 222 909.8L222 1080Q373 1149.5 486 1248.3Q599 1347.1 646 1440L763 1440Z" fill="#000"/></g>
<line x1="1358.50" y1="932.54" x2="1363.30" y2="932.54" stroke="#000" stroke-width="1.9" />
<g transform="translate(1366.50 942.14) scale(1.0 1.04)"><text x="0.00" y="0" font-size="26" fill="#000" xml:space="preserve"> .6</text><path transform="translate(0.00 0) scale(0.01270 -0.01270)" d="M763 0L583 0L583 1122.1Q518 1061.4 412 1000.8Q306 940.1 222 909.8L222 1080Q373 1149.5 486 1248.3Q599 1347.1 646 1440L763 1440Z" fill="#000"/></g>
<line x1="1358.50" y1="856.78" x2="1363.30" y2="856.78" stroke="#000" stroke-width="1.9" />
<g transform="translate(1366.50 866.38) scale(1.0 1.04)"><text x="0.00" y="0" font-size="26" fill="#000" xml:space="preserve"> .8</text><path transform="translate(0.00 0) scale(0.01270 -0.01270)" d="M763 0L583 0L583 1122.1Q518 1061.4 412 1000.8Q306 940.1 222 909.8L222 1080Q373 1149.5 486 1248.3Q599 1347.1 646 1440L763 1440Z" fill="#000"/></g>
<line x1="1358.50" y1="781.02" x2="1363.30" y2="781.02" stroke="#000" stroke-width="1.9" />
<text transform="translate(1366.50 790.62) scale(1.0 1.04)" font-size="26" text-anchor="start" font-weight="normal" font-style="normal" fill="#000" >2.0</text>
<line x1="1358.50" y1="705.26" x2="1363.30" y2="705.26" stroke="#000" stroke-width="1.9" />
<text transform="translate(1366.50 714.86) scale(1.0 1.04)" font-size="26" text-anchor="start" font-weight="normal" font-style="normal" fill="#000" >2.2</text>
<line x1="1358.50" y1="629.50" x2="1363.30" y2="629.50" stroke="#000" stroke-width="1.9" />
<text transform="translate(1366.50 639.10) scale(1.0 1.04)" font-size="26" text-anchor="start" font-weight="normal" font-style="normal" fill="#000" >2.4</text>
<line x1="876.10" y1="1031.40" x2="876.10" y2="1036.20" stroke="#000" stroke-width="1.9" />
<g transform="translate(876.10 1059.50) scale(1.0 1.04)"><text x="-7.23" y="0" font-size="26" fill="#000" xml:space="preserve"> </text><path transform="translate(-7.23 0) scale(0.01270 -0.01270)" d="M763 0L583 0L583 1122.1Q518 1061.4 412 1000.8Q306 940.1 222 909.8L222 1080Q373 1149.5 486 1248.3Q599 1347.1 646 1440L763 1440Z" fill="#000"/></g>
<line x1="1017.90" y1="1031.40" x2="1017.90" y2="1036.20" stroke="#000" stroke-width="1.9" />
<text transform="translate(1017.90 1059.50) scale(1.0 1.04)" font-size="26" text-anchor="middle" font-weight="normal" font-style="normal" fill="#000" >2</text>
<line x1="1159.70" y1="1031.40" x2="1159.70" y2="1036.20" stroke="#000" stroke-width="1.9" />
<text transform="translate(1159.70 1059.50) scale(1.0 1.04)" font-size="26" text-anchor="middle" font-weight="normal" font-style="normal" fill="#000" >3</text>
<line x1="1301.50" y1="1031.40" x2="1301.50" y2="1036.20" stroke="#000" stroke-width="1.9" />
<text transform="translate(1301.50 1059.50) scale(1.0 1.04)" font-size="26" text-anchor="middle" font-weight="normal" font-style="normal" fill="#000" >∞</text>
<g transform="translate(1089.30 1108.60) scale(1.0 1.04)"><text x="-22.68" y="0" font-size="34" fill="#000" xml:space="preserve">OL</text><path transform="translate(-22.68 0) scale(0.01660 -0.01660)" d="M773 257L861 403L1518 10L1430 -136Z" fill="#000"/></g>
<text transform="translate(753.90 825.00) rotate(-90) scale(1.0 1.04)" font-size="35" text-anchor="middle" fill="#000" ><tspan font-style="italic">ID</tspan>(<tspan font-style="italic">E</tspan><tspan font-size="24" font-style="italic" dy="5">F</tspan><tspan dy="-5">)</tspan></text>
<text transform="translate(1442.10 825.00) rotate(-90) scale(1.0 1.04)" font-size="36" text-anchor="middle" fill="#000" ><tspan font-style="italic">m</tspan> (<tspan font-style="italic">μ</tspan><tspan font-size="24" font-style="italic" dy="5">B</tspan><tspan dy="-5">/Fe)</tspan></text>
<text transform="translate(1066.40 689.10) rotate(1.2) scale(1.0 1.04)" font-size="25.5" text-anchor="start" font-weight="normal" font-style="normal" fill="#3f82bf" >Fe I</text>
<text transform="translate(1025.80 789.00) rotate(-1.0) scale(1.0 1.04)" font-size="26" text-anchor="start" font-weight="normal" font-style="normal" fill="#4cb040" >Fe I + Fe II</text>
<text transform="translate(1065.50 952.80) rotate(-11) scale(1.0 1.04)" font-size="25.5" text-anchor="start" font-weight="normal" font-style="normal" fill="#ff2418" >Fe II</text>
<line x1="937.60" y1="864.20" x2="991.50" y2="864.20" stroke="#000" stroke-width="2.8" />
<text transform="translate(1010.30 872.70) scale(1.06 1.04)" font-size="22.5" text-anchor="start" fill="#000" ><tspan font-style="italic">ID</tspan>(<tspan font-style="italic">E</tspan><tspan font-size="15.5" font-style="italic" dy="3.5">F</tspan><tspan dy="-3.5">)</tspan></text>
<line x1="1146.60" y1="864.20" x2="1197.40" y2="864.20" stroke="#000" stroke-width="2.8" stroke-dasharray="9.7 4"/>
<text transform="translate(1218.10 872.70) scale(1.06 1.04)" font-size="24" text-anchor="start" font-weight="normal" font-style="italic" fill="#000" >m</text>
<text transform="translate(691.40 618.30) scale(1.0 1.04)" font-size="54" text-anchor="start" font-weight="bold" font-style="normal" fill="#000" >d</text>
</svg></body></html>
